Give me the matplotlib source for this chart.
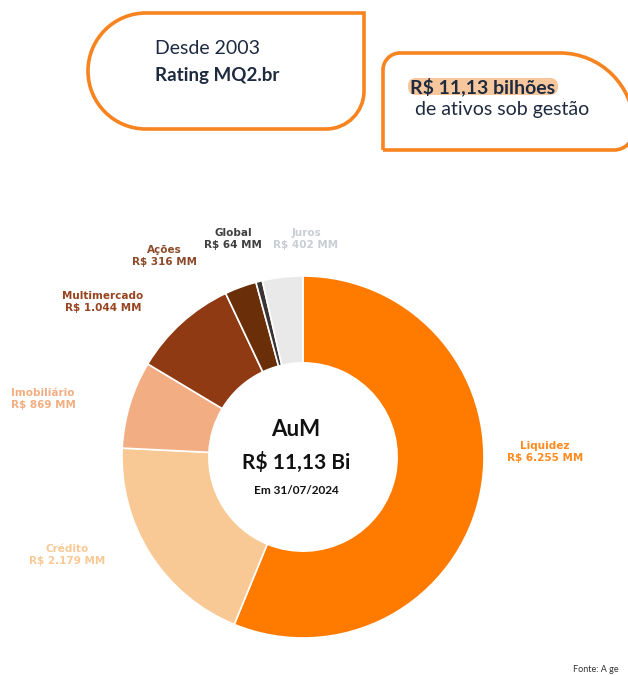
import matplotlib
matplotlib.use("Agg")
import matplotlib.pyplot as plt
from matplotlib.path import Path
from matplotlib.patches import PathPatch, FancyBboxPatch

# ---- data ----
categories = ["Liquidez", "Crédito", "Imobiliário", "Multimercado", "Ações", "Global", "Juros"]
values = [6255, 2179, 869, 1044, 316, 64, 402]
value_labels = ["R$ 6.255 MM", "R$ 2.179 MM", "R$ 869 MM", "R$ 1.044 MM", "R$ 316 MM", "R$ 64 MM", "R$ 402 MM"]
colors = ["#FF7B00", "#F8C995", "#F2AE82", "#8F3A13", "#6A2E08", "#3B3333", "#E9E9E9"]
label_colors = ["#FF8A1F", "#F8C995", "#F2AE82", "#97441F", "#8C4A28", "#404040", "#C9CDD4"]
label_pos = [(545, 452), (67, 555), (43, 399), (103, 302), (164, 256), (233, 239), (306, 239)]

W, H = 628, 675
fig = plt.figure(figsize=(W / 100, H / 100), dpi=100)

# donut axes
cx, cy, r = 303, 457, 181
ax = fig.add_axes([(cx - r) / W, (H - cy - r) / H, 2 * r / W, 2 * r / H])
ax.pie(values, colors=colors, startangle=90, counterclock=False, radius=1,
       wedgeprops=dict(width=0.48, edgecolor="white", linewidth=1.2))
ax.set_xlim(-1, 1)
ax.set_ylim(-1, 1)
ax.set_aspect("equal")
ax.axis("off")

# overlay axes in pixel coords
ov = fig.add_axes([0, 0, 1, 1], zorder=5)
ov.set_xlim(0, W)
ov.set_ylim(H, 0)
ov.axis("off")
ov.patch.set_alpha(0)

orange = "#F7841F"

def box1():
    x0, x1, y0, y1 = 88, 364, 13, 129
    rl = (y1 - y0) / 2
    rb = 38
    k = 0.5523
    verts = [
        (x0 + rl, y0), (x1, y0), (x1, y1 - rb),
        (x1, y1 - rb + rb * k), (x1 - rb + rb * k, y1), (x1 - rb, y1),
        (x0 + rl, y1),
        (x0 + rl - rl * k, y1), (x0, y0 + rl + rl * k), (x0, y0 + rl),
        (x0, y0 + rl - rl * k), (x0 + rl - rl * k, y0), (x0 + rl, y0),
    ]
    codes = [Path.MOVETO, Path.LINETO, Path.LINETO,
             Path.CURVE4, Path.CURVE4, Path.CURVE4,
             Path.LINETO,
             Path.CURVE4, Path.CURVE4, Path.CURVE4,
             Path.CURVE4, Path.CURVE4, Path.CURVE4]
    return Path(verts, codes)

def box2():
    x0, x1, y0, y1 = 383, 634, 53, 150
    rt = 17
    rr = 74
    rb = 20
    k = 0.5523
    verts = [
        (x0, y1), (x0, y0 + rt),
        (x0, y0 + rt - rt * k), (x0 + rt - rt * k, y0), (x0 + rt, y0),
        (x1 - rr, y0),
        (x1 - rr + rr * k, y0), (x1, y0 + rr - rr * k), (x1, y0 + rr),
        (x1, y1 - rb),
        (x1, y1 - rb + rb * k), (x1 - rb + rb * k, y1), (x1 - rb, y1),
        (x0, y1),
    ]
    codes = [Path.MOVETO, Path.LINETO,
             Path.CURVE4, Path.CURVE4, Path.CURVE4,
             Path.LINETO,
             Path.CURVE4, Path.CURVE4, Path.CURVE4,
             Path.LINETO,
             Path.CURVE4, Path.CURVE4, Path.CURVE4,
             Path.LINETO]
    return Path(verts, codes)

ov.add_patch(PathPatch(box1(), facecolor="white", edgecolor=orange, lw=2.6))
ov.add_patch(PathPatch(box2(), facecolor="white", edgecolor=orange, lw=2.6))

navy = "#1E2A40"
ov.text(155, 48, "Desde 2003", fontsize=14, family="Lato", color=navy, va="center", ha="left")
ov.text(155, 76, "Rating MQ2.br", fontsize=13.5, family="Lato", weight="bold", color=navy, va="center", ha="left")

ov.add_patch(FancyBboxPatch((408, 78), 150, 17, boxstyle="round,pad=0,rounding_size=8",
                            facecolor="#F6C79C", edgecolor="none"))
ov.text(483, 87, "R$ 11,13 bilhões", fontsize=14, family="Lato", weight="bold", color=navy,
        va="center", ha="center")
ov.text(502, 109, "de ativos sob gestão", fontsize=14, family="Lato", color=navy, va="center", ha="center")

# center texts
ccx = 296
ov.text(ccx, 429, "AuM", fontsize=16, family="Lato", weight="bold", color="#111111", ha="center", va="center")
ov.text(ccx, 462, "R$ 11,13 Bi", fontsize=15, family="Lato", weight="bold", color="#111111", ha="center", va="center")
ov.text(ccx, 490, "Em 31/07/2024", fontsize=8.5, family="Lato", weight="bold", color="#111111", ha="center", va="center")

# category labels
for cat, vl, col, (lx, ly) in zip(categories, value_labels, label_colors, label_pos):
    ov.text(lx, ly, f"{cat}\n{vl}", fontsize=7.5, family="DejaVu Sans", weight="bold", color=col,
            ha="center", va="center", linespacing=1.15)

ov.text(573, 670, "Fonte: A ge", fontsize=6.5, family="Lato", color="#333333", ha="left", va="center")

fig.savefig("out.png", dpi=100, facecolor="white")
